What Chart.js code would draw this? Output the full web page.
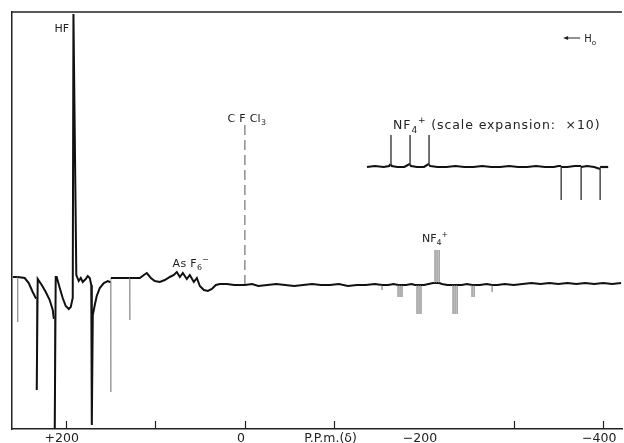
<!DOCTYPE html>
<html>
<head>
<meta charset="utf-8">
<script src="https://cdn.jsdelivr.net/npm/chart.js@4.4.1/dist/chart.umd.min.js"></script>
<style>
html,body{margin:0;padding:0;background:#fff;}
#c{display:block;}
</style>
</head>
<body>
<canvas id="c" width="624" height="443"></canvas>
<script>
// ---- DATA (chemical shift in p.p.m., intensity in arbitrary units; baseline ~0) ----
const mainTrace = [
  [259,6],[257,6],[253.6,6],[253.6,-39],[253.6,6],[245.8,5],[241.3,0],[236.9,-9],[233.5,-15],
  [232.4,-15],[232.4,-107],[231.3,4],[226.8,-2],[222.3,-9],[217.9,-17],[214.5,-27],[213.4,-35],
  [212.3,-35],[212.3,-146],[211.2,6],[210.1,6],[206.7,-5],[203.4,-15],[200.0,-23],[196.6,-26],
  [194.4,-24],[192.2,-15],[191.4,269],[188.2,8],[187.7,8],[185.5,2],[183.2,5],[181.0,1],
  [177.7,4],[175.4,7],[173.2,5],[171.5,-2],[170.9,-142],[169.8,-32],[167.6,-22],[165.4,-13],
  [162.0,-5],[157.5,0],[153.1,2],[150.8,1],[149.7,1],[149.7,-109],[149.6,5],[147.5,5],[139.7,5],
  [129.6,5],[128.5,5],[128.5,-37],[128.4,5],[117.3,5],[112.8,8],[109.5,10],[105.0,5],[100.6,2],
  [95.0,1],[89.4,3],[83.8,6],[79.3,8],[76.0,11],[72.6,6],[69.3,10],[64.8,4],[61.5,8],[57.0,1],
  [53.6,5],[50.3,-3],[45.8,-7],[41.3,-8],[36.9,-6],[32.4,-2],[27.9,-1],[20,-1],[12,-2],[5,-2],
  [0,-2],[-8,-1],[-15,-3],[-25,-2],[-35,-1],[-45,-2],[-55,-3],[-65,-2],[-75,-1],[-85,-2],
  [-95,-2],[-105,-1],[-115,-3],[-125,-2],[-135,-2],[-145,-1],[-153.1,-2],[-153.1,-7],[-153.1,-2],
  [-160,-2],[-166,-1],[-171,-2],[-171,-14],[-171,-2],[-173.2,-2],[-173.2,-14],[-173.2,-2],
  [-175.4,-2],[-175.4,-14],[-175.4,-2],[-180,-2],[-186,-1],[-190,-2],
  [-192.2,-2],[-192.2,-31],[-192.2,-2],[-194.4,-2],[-194.4,-31],[-194.4,-2],[-196.6,-2],[-196.6,-31],[-196.6,-2],
  [-200,-2],[-205,-1],[-210,0],
  [-212.3,0],[-212.3,33],[-212.3,0],[-214.5,0],[-214.5,33],[-214.5,0],[-216.8,0],[-216.8,33],[-216.8,0],
  [-220,-1],[-226,-2],[-230,-2],
  [-232.4,-2],[-232.4,-31],[-232.4,-2],[-234.6,-2],[-234.6,-31],[-234.6,-2],[-236.9,-2],[-236.9,-31],[-236.9,-2],
  [-242,-2],[-248,-1],[-253.6,-2],[-253.6,-14],[-253.6,-2],[-255.9,-2],[-255.9,-14],[-255.9,-2],
  [-262,-2],[-270,-1],[-276,-2],[-276,-9],[-276,-2],[-282,-2],[-290,-1],[-300,-2],[-310,-1],
  [-320,0],[-330,-1],[-340,0],[-350,-1],[-360,0],[-370,-1],[-380,0],[-390,-1],[-400,0],[-410,-1],[-420,0]
];
// NF4+ multiplet, scale expansion x10 (offset trace)
const insetTrace = [
  [-136.3,116],[-145,117],[-155,116],[-161,117],[-162.5,119],[-163.1,119],[-163.1,148],[-163.1,118],
  [-164,117],[-170,116],[-178,116],[-183.8,119],[-184.4,119],[-184.4,148],[-184.4,118],[-185.5,117],
  [-192,116],[-200,116],[-205,119],[-205.6,119],[-205.6,148],[-205.6,118],[-207,117],[-215,116],
  [-225,116],[-235,117],[-245,116],[-255,116],[-265,117],[-275,116],[-285,116],[-295,117],[-305,116],
  [-315,116],[-325,117],[-335,116],[-345,116],[-350,117],[-353.1,117],[-353.1,83],[-353.1,116],
  [-360,116],[-368,117],[-375.4,117],[-375.4,83],[-375.4,116],[-382,117],[-390,116],[-396.6,114],
  [-396.6,83],[-396.6,116],[-405.6,116]
];
// CFCl3 reference marker
const refMarker = [[0,-2],[0,158]];
// axis ticks
const tickValues = [200, 100, 0, -100, -200, -300, -400];
const tickLabels = ['+200', '', '0', 'P.P.m.(δ)', '−200', '', '−400'];
const tickMarkValues = [200, 100, 0, -100, -300, -400];
// annotations: [ppm, intensity, parts]
const annotations = [
  [204.5, 251, [['HF']], 'center', 11, 0],
  [-2.2, 161, [['C F Cl'], ['3', 'sub']], 'center', 11, 0.3],
  [60.3, 16, [['As F'], ['6', 'sub'], ['−', 'sup']], 'center', 11, 0.3],
  [-212.3, 41, [['NF'], ['4', 'sub'], ['+', 'sup']], 'center', 11, 0],
  [-165.4, 154, [['NF'], ['4', 'sub'], ['+', 'sup'], [' (scale expansion:  ×10)']], 'left', 12.5, 0.9]
];
const fieldLabel = [-355.3, 245];

// ---- chart ----
const FAM = '"DejaVu Sans", sans-serif';
const toXY = arr => arr.map(p => ({x: p[0], y: p[1]}));
function isSpike(c) {
  return Math.abs(c.p1.parsed.x - c.p0.parsed.x) < 0.3 && Math.abs(c.p1.parsed.y - c.p0.parsed.y) > 3;
}
function drawRich(ctx, parts, x, y, size, align, spacing) {
  ctx.letterSpacing = spacing + 'px';
  const widths = parts.map(p => {
    ctx.font = (p[1] ? size * 0.72 : size) + 'px ' + FAM;
    return ctx.measureText(p[0]).width;
  });
  const total = widths.reduce((a, b) => a + b, 0);
  let cx = align === 'center' ? x - total / 2 : x;
  ctx.textAlign = 'left';
  ctx.textBaseline = 'alphabetic';
  parts.forEach((p, i) => {
    ctx.font = (p[1] ? size * 0.72 : size) + 'px ' + FAM;
    const dy = p[1] === 'sub' ? size * 0.3 : (p[1] === 'sup' ? -size * 0.45 : 0);
    ctx.fillText(p[0], cx, y + dy);
    cx += widths[i];
  });
  ctx.letterSpacing = '0px';
}
const decor = {
  id: 'decor',
  afterDraw(chart) {
    const ctx = chart.ctx, xs = chart.scales.x, ys = chart.scales.y, a = chart.chartArea;
    ctx.save();
    ctx.strokeStyle = '#222';
    ctx.lineWidth = 1.5;
    ctx.beginPath();
    ctx.moveTo(a.left, a.top); ctx.lineTo(a.right, a.top);
    ctx.stroke();
    ctx.lineWidth = 1.2;
    tickMarkValues.forEach(v => {
      const px = Math.round(xs.getPixelForValue(v)) + 0.5;
      ctx.beginPath(); ctx.moveTo(px, a.bottom); ctx.lineTo(px, a.bottom - 8); ctx.stroke();
    });
    ctx.fillStyle = '#222';
    annotations.forEach(an => {
      const px = xs.getPixelForValue(an[0]), py = ys.getPixelForValue(an[1]);
      drawRich(ctx, an[2], px, py, an[4], an[3], an[5]);
    });
    // field arrow
    const fx = xs.getPixelForValue(fieldLabel[0]), fy = ys.getPixelForValue(fieldLabel[1]);
    ctx.lineWidth = 1;
    ctx.beginPath(); ctx.moveTo(fx + 2, fy); ctx.lineTo(fx + 17, fy); ctx.stroke();
    ctx.beginPath(); ctx.moveTo(fx, fy); ctx.lineTo(fx + 5, fy - 2); ctx.lineTo(fx + 5, fy + 2); ctx.closePath(); ctx.fill();
    drawRich(ctx, [['H'], ['o', 'sub']], fx + 21, fy + 4, 10, 'left', 0);
    ctx.restore();
  }
};

new Chart(document.getElementById('c'), {
  type: 'line',
  data: {
    datasets: [
      {
        data: toXY(mainTrace), borderColor: '#111', borderWidth: 2, pointRadius: 0, tension: 0,
        segment: {
          borderWidth: c => isSpike(c) ? 0.8 : undefined,
          borderColor: c => isSpike(c) ? '#888' : undefined
        }
      },
      {
        data: toXY(insetTrace), borderColor: '#111', borderWidth: 2.2, pointRadius: 0, tension: 0,
        segment: {
          borderWidth: c => isSpike(c) ? 1 : undefined,
          borderColor: c => isSpike(c) ? '#444' : undefined
        }
      },
      {
        data: toXY(refMarker), borderColor: '#555', borderWidth: 1, borderDash: [10, 5], pointRadius: 0
      }
    ]
  },
  options: {
    responsive: false, animation: false, devicePixelRatio: 1,
    layout: {padding: {left: 12, top: 12, right: 2, bottom: 0}},
    plugins: {legend: {display: false}, tooltip: {enabled: false}},
    scales: {
      x: {
        type: 'linear', reverse: true, min: -421, max: 260,
        afterBuildTicks: s => { s.ticks = tickValues.map(v => ({value: v})); },
        afterFit: s => { s.height = 14; },
        grid: {drawOnChartArea: false, drawTicks: false},
        border: {display: true, color: '#222', width: 1.5},
        ticks: {
          autoSkip: false, maxRotation: 0, padding: 2, labelOffset: -4,
          color: '#222', font: {family: FAM, size: 12.5},
          callback: (v, i) => tickLabels[i]
        }
      },
      y: {
        type: 'linear', min: -146, max: 271,
        afterFit: s => { s.width = 0; },
        grid: {drawOnChartArea: false, drawTicks: false},
        border: {display: true, color: '#222', width: 1.5},
        ticks: {display: false}
      }
    }
  },
  plugins: [decor]
});
</script>
</body>
</html>
